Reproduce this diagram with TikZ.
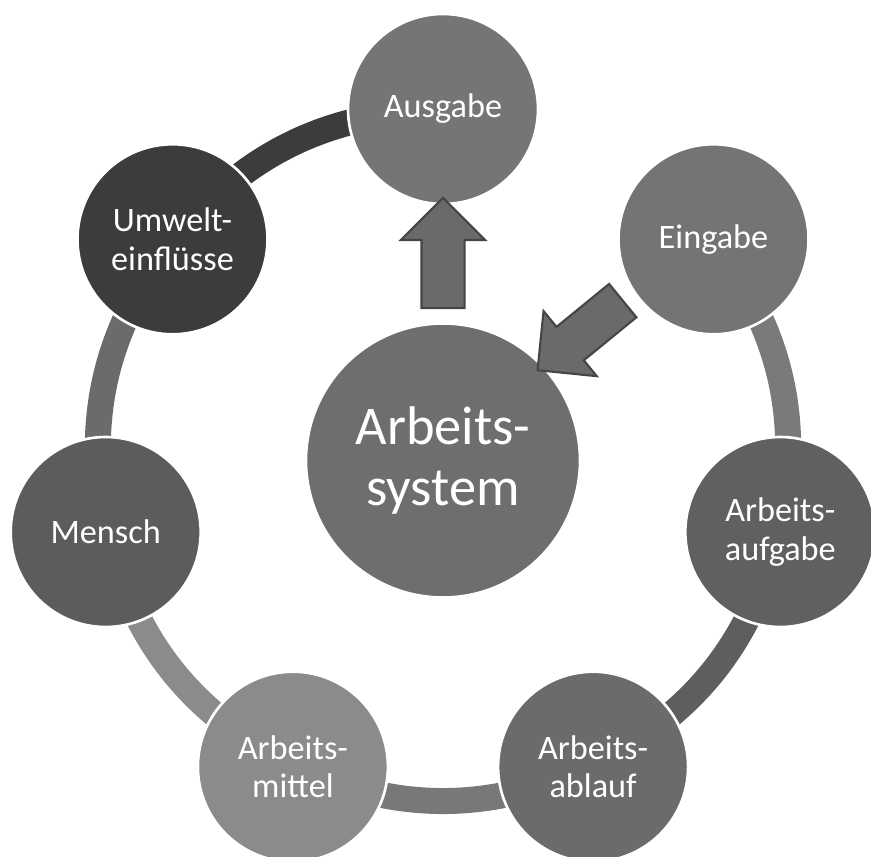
\documentclass[tikz,border=0pt]{standalone}
\usepackage{fontspec}
\setmainfont{Carlito}
\usetikzlibrary{shapes.arrows,backgrounds}

\definecolor{sysgray}{HTML}{6E6E6E}
\definecolor{ausgray}{HTML}{757575}
\definecolor{eingray}{HTML}{747474}
\definecolor{aufgray}{HTML}{606060}
\definecolor{ablgray}{HTML}{6B6B6B}
\definecolor{mitgray}{HTML}{8B8B8B}
\definecolor{mengray}{HTML}{5C5C5C}
\definecolor{umwgray}{HTML}{3C3C3C}
\definecolor{arrowfill}{HTML}{6A6A6A}
\definecolor{arrowline}{HTML}{454545}

\begin{document}
\begin{tikzpicture}[
    part/.style={circle, draw=white, line width=1.5pt, minimum size=3.8cm, inner sep=0pt,
                 text=white, align=center, font=\fontsize{19.5}{22}\selectfont},
    ring/.style={line width=0.52cm},
    blockarrow/.style={single arrow, draw=arrowline, fill=arrowfill, line width=1.2pt,
                       minimum height=2.2cm, minimum width=1.64cm,
                       inner xsep=0pt, inner ysep=0.41cm,
                       single arrow head extend=0.41cm}
]
    \useasboundingbox (-8.86,-8.02) rectangle (8.56,9.10);

    % ================= CENTRE =================
    \node[part, minimum size=5.48cm, fill=sysgray, font=\fontsize{31}{35}\selectfont]
        (sys) at (0,-0.11) {Arbeits-\\system};

    % ================= OUTER CIRCLES (heptagon, radius 6.92) =================
    \node[part, fill=ausgray] (aus) at (90:6.92)     {Ausgabe};
    \node[part, fill=eingray] (ein) at (38.57:6.92)  {Eingabe};
    \node[part, fill=aufgray] (auf) at (-12.86:6.92) {Arbeits-\\aufgabe};
    \node[part, fill=ablgray] (abl) at (-64.29:6.92) {Arbeits-\\ablauf};
    \node[part, fill=mitgray] (mit) at (-115.71:6.92) {Arbeits-\\mittel};
    \node[part, fill=mengray] (men) at (-167.14:6.92) {Mensch};
    \node[part, fill=umwgray] (umw) at (141.43:6.92) {Umwelt-\\einflüsse};

    % ring pieces behind the circles (none between Eingabe and Ausgabe)
    \begin{pgfonlayer}{background}
    \draw[ring, draw=umwgray]      (aus.center) to[bend right=23] (umw.center);
    \draw[ring, draw=ablgray]      (umw.center) to[bend right=23] (men.center);
    \draw[ring, draw=mitgray]      (men.center) to[bend right=23] (mit.center);
    \draw[ring, draw=black!53]     (mit.center) to[bend right=23] (abl.center);
    \draw[ring, draw=black!63]     (abl.center) to[bend right=23] (auf.center);
    \draw[ring, draw=black!52]     (auf.center) to[bend right=23] (ein.center);
    \end{pgfonlayer}

    % ================= BLOCK ARROWS =================
    \path (sys) -- (aus) coordinate[pos=0.5] (upmid);
    \path (ein) -- (sys) coordinate[pos=0.5] (inmid);
    \node[blockarrow, rotate=90]     (outarrow) at (upmid) {};
    \node[blockarrow, xshift=-0.12cm, yshift=0.16cm, rotate=219.25] (inarrow) at (inmid) {};
\end{tikzpicture}
\end{document}
